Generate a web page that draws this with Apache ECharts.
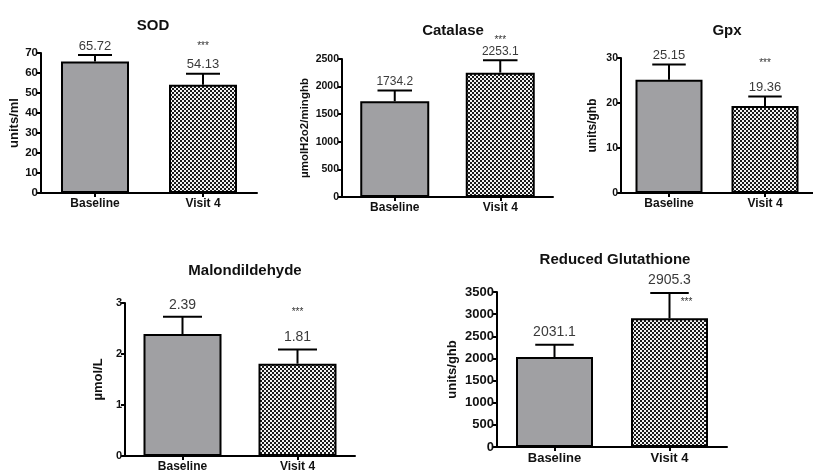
<!DOCTYPE html>
<html>
<head>
<meta charset="utf-8">
<script src="https://cdn.jsdelivr.net/npm/echarts@6/dist/echarts.min.js"></script>
<style>html,body{margin:0;padding:0;background:#fff}#c{width:813px;height:473px}</style>
</head>
<body>
<div id="c"></div>
<script>
// ---------- data ----------
const categories = ['Baseline', 'Visit 4'];
const panelTitles = ['SOD', 'Catalase', 'Gpx', 'Malondildehyde', 'Reduced Glutathione'];
const yAxisTitles = ['units/ml', 'µmolH2o2/minghb', 'units/ghb', 'µmol/L', 'units/ghb'];
const sodMean = [65.72, 54.13];
const sodSD = [3.3, 5.5];
const catalaseMean = [1734.2, 2253.1];
const catalaseSD = [197, 222];
const gpxMean = [25.15, 19.36];
const gpxSD = [3.4, 2.1];
const mdaMean = [2.39, 1.81];
const mdaSD = [0.34, 0.28];
const gshMean = [2031.1, 2905.3];
const gshSD = [279, 573];
const significance = ['', '***'];
const yMax = [70, 2500, 30, 3, 3500];
const yInterval = [10, 500, 10, 1, 500];

const means = [sodMean, catalaseMean, gpxMean, mdaMean, gshMean];
const sds = [sodSD, catalaseSD, gpxSD, mdaSD, gshSD];

// ---------- layout / style ----------
const layouts = [
  {left:41, top:53, width:216, height:140, barWidth:68, titleX:148, titleY:22, nameGap:19, tickFont:11.5, catFont:12, nameFont:13, valFont:13, labelGap:9, starDx:0, starDy:-27},
  {left:342, top:59, width:211, height:138, barWidth:69, titleX:448, titleY:27, nameGap:31, tickFont:10.5, catFont:12, nameFont:11.5, valFont:12, labelGap:9, starDx:0, starDy:-20},
  {left:621, top:58, width:200, height:135, barWidth:67, titleX:722, titleY:27, nameGap:22, tickFont:10.5, catFont:12, nameFont:12, valFont:13, labelGap:9, starDx:0, starDy:-33},
  {left:125, top:303, width:230, height:156, barWidth:78, titleX:240, titleY:267, nameGap:20, tickFont:11, catFont:12, nameFont:13, valFont:14, labelGap:12, starDx:0, starDy:-37},
  {left:497, top:292, width:230, height:155, barWidth:77, titleX:610, titleY:256, nameGap:38, tickFont:13, catFont:13, nameFont:13, valFont:14, labelGap:13, starDx:17, starDy:9}
];

const FONT = '"Liberation Sans", Arial, sans-serif';

// checkered pattern
const pc = document.createElement('canvas');
pc.width = 4; pc.height = 4;
const pctx = pc.getContext('2d');
pctx.fillStyle = '#f2f2f2'; pctx.fillRect(0,0,4,4);
pctx.fillStyle = '#1a1a1a'; pctx.fillRect(0,0,2,2); pctx.fillRect(2,2,2,2);
const checker = {image: pc, repeat: 'repeat'};
const fills = ['#a0a0a3', checker];

const chart = echarts.init(document.getElementById('c'), null, {renderer: 'canvas'});

const option = {
  backgroundColor: '#ffffff',
  animation: false,
  title: [], grid: [], xAxis: [], yAxis: [], series: []
};

layouts.forEach((L, i) => {
  option.title.push({
    text: panelTitles[i], left: L.titleX, top: L.titleY - 9, textAlign: 'center',
    textStyle: {fontFamily: FONT, fontSize: 15, fontWeight: 'bold', color: '#111'}
  });
  option.grid.push({left: L.left, top: L.top, width: L.width, height: L.height, containLabel: false});
  option.xAxis.push({
    type: 'category', gridIndex: i, data: categories,
    axisLine: {lineStyle: {color: '#000', width: 2}},
    axisTick: {show: true, alignWithLabel: true, length: 4, lineStyle: {color: '#000', width: 2}},
    axisLabel: {fontFamily: FONT, fontSize: L.catFont, fontWeight: 'bold', color: '#111', margin: 5},
    splitLine: {show: false}
  });
  option.yAxis.push({
    type: 'value', gridIndex: i, min: 0, max: yMax[i], interval: yInterval[i],
    name: yAxisTitles[i], nameLocation: 'middle', nameGap: L.nameGap,
    nameTextStyle: {fontFamily: FONT, fontSize: L.nameFont, fontWeight: 'bold', color: '#111'},
    axisLine: {show: true, lineStyle: {color: '#000', width: 2}},
    axisTick: {show: true, length: 4, lineStyle: {color: '#000', width: 2}},
    axisLabel: {fontFamily: FONT, fontSize: L.tickFont, fontWeight: 'bold', color: '#111', margin: 3,
      formatter: function (v) { return String(v); }},
    splitLine: {show: false}
  });
  option.series.push({
    type: 'bar', xAxisIndex: i, yAxisIndex: i, barWidth: L.barWidth,
    data: means[i].map((v, j) => ({value: v, itemStyle: {color: fills[j], borderColor: '#000', borderWidth: 2}})),
    z: 2
  });
  const errData = means[i].map((v, j) => [j, v, sds[i][j], String(v), significance[j]]);
  option.series.push({
    type: 'custom', xAxisIndex: i, yAxisIndex: i, z: 5,
    data: errData,
    renderItem: function (params, api) {
      const x = api.value(0), m = api.value(1), sd = api.value(2);
      const base = api.coord([x, m]);
      const top = api.coord([x, m + sd]);
      const half = L.barWidth / 4;
      const children = [
        {type: 'line', shape: {x1: base[0], y1: base[1], x2: top[0], y2: top[1]}, style: {stroke: '#000', lineWidth: 2}},
        {type: 'line', shape: {x1: top[0] - half, y1: top[1], x2: top[0] + half, y2: top[1]}, style: {stroke: '#000', lineWidth: 2}},
        {type: 'text', style: {text: api.value(3), x: top[0], y: top[1] - L.labelGap, textAlign: 'center', textVerticalAlign: 'middle', fill: '#3a3a3a', font: L.valFont + 'px ' + FONT}}
      ];
      const s = errData[params.dataIndex][4];
      if (s) {
        children.push({type: 'text', style: {text: s, x: top[0] + L.starDx, y: top[1] + L.starDy, textAlign: 'center', textVerticalAlign: 'middle', fill: '#333', font: '10px ' + FONT}});
      }
      return {type: 'group', children: children};
    }
  });
});

chart.setOption(option);
</script>
</body>
</html>
